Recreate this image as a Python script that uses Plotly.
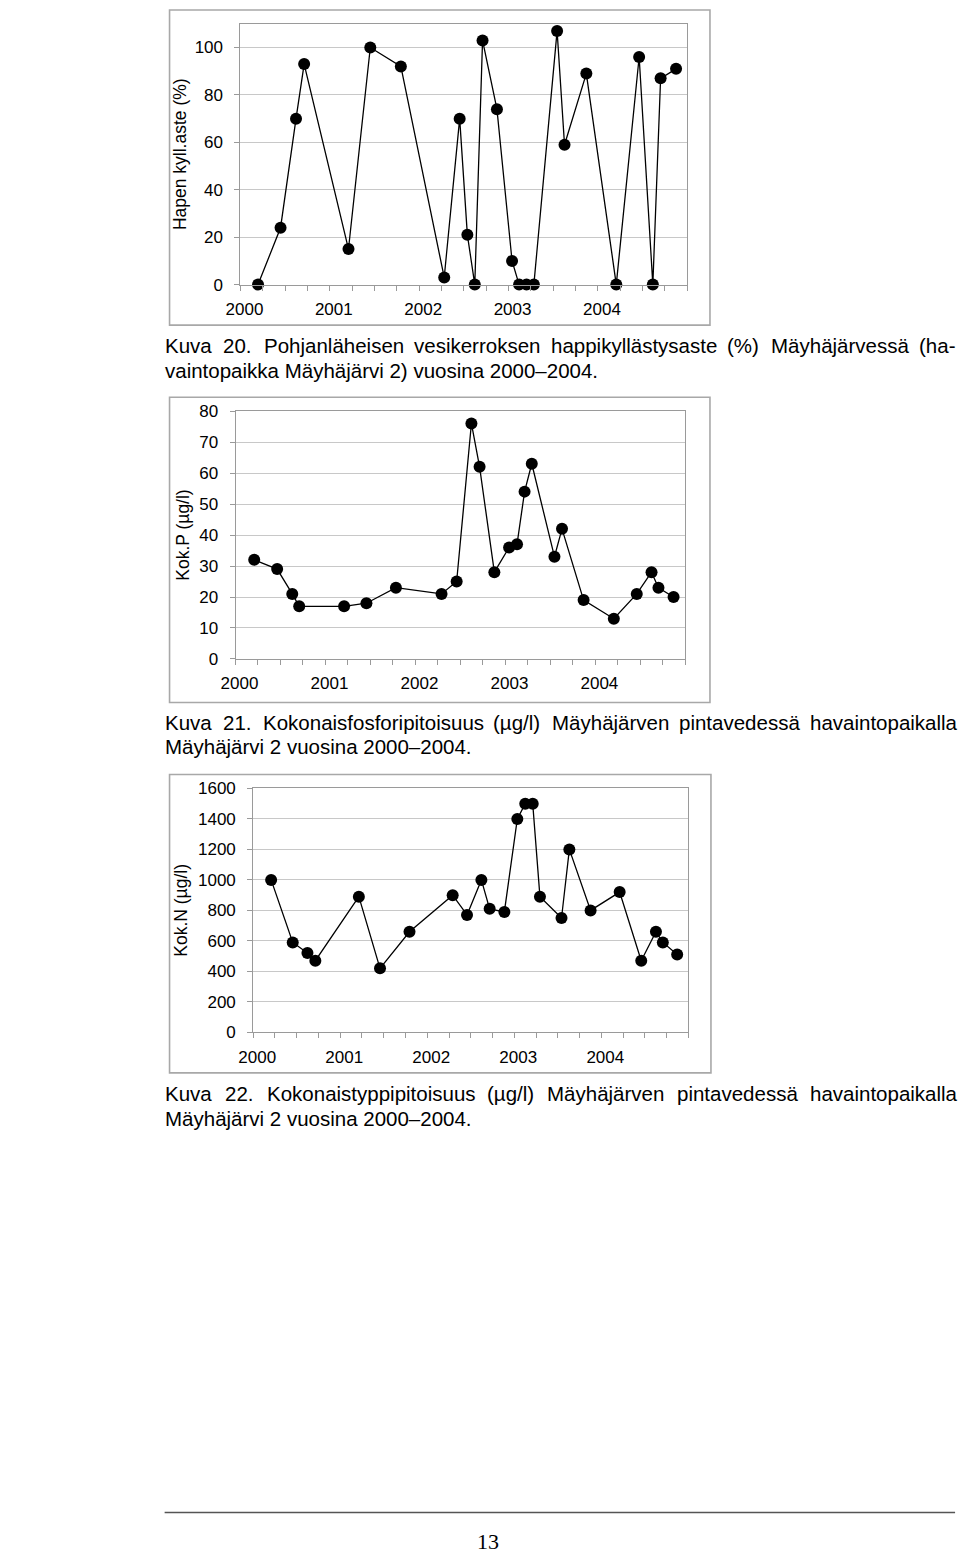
import plotly.graph_objects as go

W, H = 960, 1561

# ---------------- data ----------------
year_ticks = [2000, 2001, 2002, 2003, 2004, 2005]
year_labels = ["2000", "2001", "2002", "2003", "2004", ""]

# Kuva 20: oxygen saturation (%)
o2_x = [2000.197, 2000.449, 2000.622, 2000.713, 2001.209, 2001.453, 2001.795,
        2002.280, 2002.453, 2002.539, 2002.622, 2002.709, 2002.870, 2003.039,
        2003.118, 2003.201, 2003.283, 2003.543, 2003.626, 2003.870, 2004.205,
        2004.461, 2004.614, 2004.701, 2004.874]
o2_y = [0, 24, 70, 93, 15, 100, 92, 3, 70, 21, 0, 103, 74, 10, 0, 0, 0,
        107, 59, 89, 0, 96, 0, 87, 91]
o2_ticks = [0, 20, 40, 60, 80, 100]

# Kuva 21: total phosphorus (µg/l)
p_x = [2000.208, 2000.463, 2000.631, 2000.708, 2001.207, 2001.455, 2001.783,
       2002.290, 2002.458, 2002.622, 2002.713, 2002.877, 2003.041, 2003.129,
       2003.213, 2003.293, 2003.545, 2003.629, 2003.869, 2004.205, 2004.460,
       2004.624, 2004.701, 2004.869]
p_y = [32, 29, 21, 17, 17, 18, 23, 21, 25, 76, 62, 28, 36, 37, 54, 63, 33,
       42, 19, 13, 21, 28, 23, 20]
p_ticks = [0, 10, 20, 30, 40, 50, 60, 70, 80]

# Kuva 22: total nitrogen (µg/l)
n_x = [2000.206, 2000.454, 2000.623, 2000.714, 2001.214, 2001.457, 2001.796,
       2002.292, 2002.457, 2002.622, 2002.717, 2002.886, 2003.035, 2003.126,
       2003.212, 2003.295, 2003.543, 2003.633, 2003.877, 2004.211, 2004.459,
       2004.628, 2004.707, 2004.872]
n_y = [1000, 590, 520, 470, 890, 420, 660, 900, 770, 1000, 810, 790, 1400,
       1500, 1500, 890, 750, 1200, 800, 920, 470, 660, 590, 510]
n_ticks = [0, 200, 400, 600, 800, 1000, 1200, 1400, 1600]

titles = ["Hapen kyll.aste (%)", "Kok.P (µg/l)", "Kok.N (µg/l)"]

captions = [
    ["Kuva 20. Pohjanläheisen vesikerroksen happikyllästysaste (%) Mäyhäjärvessä (ha-",
     "vaintopaikka Mäyhäjärvi 2) vuosina 2000–2004."],
    ["Kuva 21. Kokonaisfosforipitoisuus (µg/l) Mäyhäjärven pintavedessä havaintopaikalla",
     "Mäyhäjärvi 2 vuosina 2000–2004."],
    ["Kuva 22. Kokonaistyppipitoisuus (µg/l) Mäyhäjärven pintavedessä havaintopaikalla",
     "Mäyhäjärvi 2 vuosina 2000–2004."],
]
page_number = "13"

# ---------------- layout helpers ----------------
def px(x):
    return x / W

def py(y):
    return 1 - y / H

FONT = "Liberation Sans, Arial, sans-serif"
GRID = "#c8c8c8"
AXIS = "#9a9a9a"

# plot area pixel boxes (left, right, top, bottom)
plot_boxes = [(229, 683, 15, 279), (224, 681, 407, 658), (242, 684, 789, 1036)]
outer_boxes = [(157, 706, 1, 320), (157, 706, 393, 702), (157, 707, 775, 1077)]
y_ranges = [[0, 110], [0, 80], [0, 1600]]
y_tickvals = [o2_ticks, p_ticks, n_ticks]
title_standoff = [3, 5, 5]
caption_y = [[341, 366], [722, 747], [1098, 1123]]

series = [(o2_x, o2_y), (p_x, p_y), (n_x, n_y)]

fig = go.Figure()

for i, (xs, ys) in enumerate(series):
    sfx = "" if i == 0 else str(i + 1)
    fig.add_trace(go.Scatter(
        x=xs, y=ys, mode="lines+markers",
        line=dict(color="black", width=1.3),
        marker=dict(color="black", size=12),
        cliponaxis=False,
        xaxis="x" + sfx, yaxis="y" + sfx, showlegend=False,
    ))
    l, r, t, b = plot_boxes[i]
    fig.layout["xaxis" + sfx] = dict(
        domain=[px(l), px(r)], range=[2000, 2005], anchor="y" + sfx,
        tickmode="array", tickvals=year_ticks, ticktext=year_labels,
        ticks="outside", ticklen=5, tickcolor=AXIS, tickwidth=1,
        showline=True, linecolor=AXIS, linewidth=1, mirror=True,
        showgrid=False, zeroline=False,
        tickfont=dict(family=FONT, size=17, color="black"),
        ticklabelshift=4, ticklabelstandoff=4,
        minor=dict(tickmode="linear", tick0=2000, dtick=0.25, ticks="outside",
                   ticklen=5, tickcolor=AXIS, tickwidth=1, showgrid=False),
    )
    fig.layout["yaxis" + sfx] = dict(
        domain=[py(b), py(t)], range=y_ranges[i], anchor="x" + sfx,
        tickmode="array", tickvals=y_tickvals[i],
        ticks="outside", ticklen=5, tickcolor=AXIS, tickwidth=1,
        showline=True, linecolor=AXIS, linewidth=1, mirror=True,
        showgrid=True, gridcolor=GRID, gridwidth=1, zeroline=False,
        tickfont=dict(family=FONT, size=17, color="black"),
        ticklabelstandoff=8,
        title=dict(text=titles[i], font=dict(family=FONT, size=17.5, color="black"),
                   standoff=title_standoff[i]),
    )

shapes = []
for (l, r, t, b) in outer_boxes:
    shapes.append(dict(type="rect", xref="paper", yref="paper",
                       x0=px(l), x1=px(r), y0=py(b), y1=py(t),
                       line=dict(color="#a8a8a8", width=1.6)))
# footer rule
shapes.append(dict(type="line", xref="paper", yref="paper",
                   x0=px(152), x1=px(955), y0=py(1522), y1=py(1522),
                   line=dict(color="#555555", width=1.5)))
fig.update_layout(shapes=shapes)

# Arial / Liberation Sans advance widths (units per 1000)
AW = {' ': 278, '(': 333, ')': 333, '%': 889, '-': 333, '.': 278, '/': 278,
      '–': 556, 'µ': 577, 'ä': 556, 'ö': 556,
      'K': 667, 'M': 833, 'P': 667, 'N': 722,
      'a': 556, 'b': 556, 'c': 500, 'd': 556, 'e': 556, 'f': 278, 'g': 556,
      'h': 556, 'i': 222, 'j': 222, 'k': 500, 'l': 222, 'm': 833, 'n': 556,
      'o': 556, 'p': 556, 'q': 556, 'r': 333, 's': 500, 't': 278, 'u': 556,
      'v': 500, 'w': 722, 'x': 500, 'y': 500, 'z': 500}
for d in "0123456789":
    AW[d] = 556

CAP_SIZE = 20.5

def tw(s):
    return sum(AW.get(c, 556) for c in s) * CAP_SIZE / 1000.0

annotations = []
X0, X1 = 152, 955

def add_text(txt, x, y, anchor="left", size=CAP_SIZE, family=FONT):
    annotations.append(dict(text=txt, x=px(x), y=py(y), xref="paper", yref="paper",
                            xanchor=anchor, yanchor="middle", showarrow=False,
                            borderpad=0, borderwidth=0,
                            font=dict(family=family, size=size, color="black")))

for ci, lines in enumerate(captions):
    first, second = lines
    words = first.split(" ")
    total = sum(tw(w) for w in words)
    gap = (X1 - X0 - total) / (len(words) - 1)
    pos = X0
    for w in words:
        add_text(w, pos, caption_y[ci][0])
        pos += tw(w) + gap
    add_text(second, X0, caption_y[ci][1])

add_text(page_number, 480, 1551, anchor="center", size=22,
         family="Liberation Serif, Times New Roman, serif")

fig.update_layout(
    width=W, height=H, margin=dict(l=0, r=0, t=0, b=0),
    paper_bgcolor="white", plot_bgcolor="white",
    annotations=annotations, showlegend=False,
)

fig.write_html(
    "out.html",
    config={"displayModeBar": False},
    post_script="document.body.style.margin='0';document.body.style.overflow='hidden';",
)
